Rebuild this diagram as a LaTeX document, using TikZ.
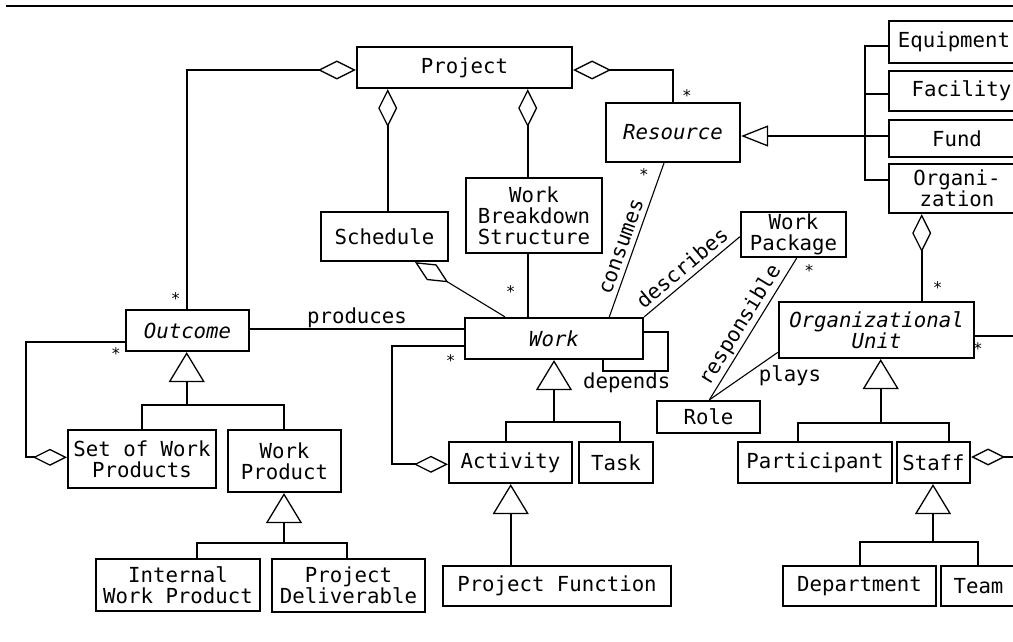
\documentclass[tikz,border=0pt]{standalone}
\usepackage{fontspec}
\setmonofont{DejaVu Sans Mono}[ItalicFont={DejaVu Sans Mono Oblique}]
\usetikzlibrary{arrows.meta}
\newcommand\bfnt{\ttfamily\fontsize{20.7}{20.8}\selectfont}
\newcommand\multfnt{\ttfamily\fontsize{16}{16}\selectfont}
\begin{document}
\begin{tikzpicture}[x=1pt,y=-1pt,
  box/.style={draw, line width=2.2pt, inner sep=0pt, align=center, font=\bfnt},
  ital/.style={box, font=\bfnt\itshape},
  conn/.style={line width=2pt},
  thinc/.style={line width=1.1pt},
  aggbig/.style={conn, {Diamond[open,length=38pt,width=19pt,line width=1.3pt]}-},
  agg/.style={conn, {Diamond[open,length=34pt,width=17pt,line width=1.3pt]}-},
  aggthin/.style={thinc, {Diamond[open,length=39pt,width=18.5pt,line width=1.3pt]}-},
  gen/.style={conn, -{Triangle[open,length=30pt,width=36pt,line width=1.3pt]}},
  genh/.style={conn, -{Triangle[open,length=27pt,width=21pt,line width=1.3pt]}},
  mult/.style={font=\multfnt, inner sep=0pt, anchor=north},
  lab/.style={font=\bfnt, inner sep=0pt},
]
\useasboundingbox (0,0) rectangle (1013,642);
\draw[line width=2.5pt] (6,6) -- (1013,6);

% boxes
\node[box, minimum width=215pt, minimum height=41pt] (project) at (464.5,67.5) {Project};
\node[ital, minimum width=134pt, minimum height=59pt] (resource) at (673,132.5) {Resource};
\node[box, minimum width=130pt, minimum height=42pt] (equip) at (954,42) {Equipment};
\node[box, minimum width=145pt, minimum height=40pt] (facility) at (961.5,91) {Facility};
\node[box, minimum width=136pt, minimum height=37pt] (fund) at (957,138.5) {Fund};
\node[box, minimum width=136pt, minimum height=49pt] (org) at (957,188.5) {Organi-\\zation};
\node[box, minimum width=127pt, minimum height=49pt] (schedule) at (384.5,236.5) {Schedule};
\node[box, minimum width=136pt, minimum height=75pt] (wbs) at (534,215.5) {Work\\Breakdown\\Structure};
\node[box, minimum width=105pt, minimum height=45pt] (wp) at (793.5,234.5) {Work\\Package};
\node[ital, minimum width=123pt, minimum height=41pt] (outcome) at (187.5,330.5) {Outcome};
\node[ital, minimum width=178pt, minimum height=41pt] (work) at (554,338.5) {Work};
\node[ital, minimum width=195pt, minimum height=56pt] (orgunit) at (876.5,330) {Organizational\\Unit};
\node[box, minimum width=103pt, minimum height=32pt] (role) at (708.5,417) {Role};
\node[box, minimum width=148pt, minimum height=58pt] (setwp) at (142,459) {Set of Work\\Products};
\node[box, minimum width=113pt, minimum height=62pt] (workprod) at (284.5,461) {Work\\Product};
\node[box, minimum width=123pt, minimum height=41pt] (activity) at (510.5,462.5) {Activity};
\node[box, minimum width=74pt, minimum height=41pt] (task) at (616,462.5) {Task};
\node[box, minimum width=154pt, minimum height=41pt] (participant) at (815,462.5) {Participant};
\node[box, minimum width=73pt, minimum height=41pt] (staff) at (933.5,462.5) {Staff};
\node[box, minimum width=164pt, minimum height=52pt] (iwp) at (178,585) {Internal\\Work Product};
\node[box, minimum width=153pt, minimum height=53pt] (pdel) at (348.5,585.5) {Project\\Deliverable};
\node[box, minimum width=228pt, minimum height=40pt] (pfunc) at (557,586) {Project Function};
\node[box, minimum width=153pt, minimum height=40pt] (dept) at (859.5,586) {Department};
\node[box, minimum width=75pt, minimum height=40pt] (team) at (978.5,586) {Team};

% junction coordinates
\coordinate (otj) at (186.7,405);
\coordinate (wptj) at (284,543);
\coordinate (wtj) at (554,421.7);
\coordinate (outj) at (880.7,422.7);
\coordinate (stj) at (933,541.7);
\coordinate (rtj) at (865,136);
\coordinate (rtop) at (865,46);
\coordinate (rbot) at (865,180);
\coordinate (osl) at (26,342);
\coordinate (wsl) at (392.3,345.7);
\coordinate (dep1) at (668.3,371);
\coordinate (ouend) at (1013,335.7);
\coordinate (stend) at (1013,457);

% aggregations
\draw[aggbig] (project.west |- 0,70) -| (outcome.north -| 186.7,0);
\draw[aggbig] (project.south -| 387.7,0) -- (schedule.north -| 387.7,0);
\draw[aggbig] (project.south -| 527.7,0) -- (wbs.north -| 527.7,0);
\draw[aggbig] (project.east |- 0,70) -| (resource.north -| 673,0);
\draw[aggbig] (org.south -| 921.7,0) -- (orgunit.north -| 921.7,0);
\draw[agg] (setwp.west |- 0,457.3) -| (osl) -- (outcome.west |- osl);
\draw[agg] (activity.west |- 0,464.3) -| (wsl) -- (work.west |- wsl);
\draw[aggthin] (schedule.south -| 415,0) -- (work.north -| 505,0);
\draw[agg] (staff.east |- stend) -- (stend);

% generalizations
\draw[gen] (otj) -- (outcome.south -| otj);
\draw[conn] (setwp.north -| 142.3,0) |- (otj) -| (workprod.north -| 284,0);
\draw[gen] (wptj) -- (workprod.south -| wptj);
\draw[conn] (iwp.north -| 197,0) |- (wptj) -| (pdel.north -| 347,0);
\draw[gen] (wtj) -- (work.south -| wtj);
\draw[conn] (activity.north -| 506,0) |- (wtj) -| (task.north -| 620,0);
\draw[gen] (pfunc.north -| 510.7,0) -- (activity.south -| 510.7,0);
\draw[gen] (outj) -- (orgunit.south -| outj);
\draw[conn] (participant.north -| 797.7,0) |- (outj) -| (staff.north -| 949,0);
\draw[gen] (stj) -- (staff.south -| stj);
\draw[conn] (dept.north -| 860,0) |- (stj) -| (team.north -| 977.7,0);
\draw[genh] (rtj) -- (resource.east |- rtj);
\draw[conn] (equip.west |- rtop) -- (rtop) -- (rbot) -- (org.west |- rbot);
\draw[conn] (facility.west |- 0,94) -- (rtop |- 0,94);
\draw[conn] (fund.west |- rtj) -- (rtj);

% associations
\draw[conn] (wbs.south -| 527.7,0) -- (work.north -| 527.7,0);
\draw[conn] (outcome.east |- 0,329) -- node[lab, pos=0.5, anchor=base, yshift=5.7pt] {produces} (work.west |- 0,329);
\draw[thinc] (work.north -| 609.3,0) -- node[lab, sloped, above, pos=0.43, inner sep=5pt] {consumes} (resource.south -| 664,0);
\draw[thinc] (work.north east) -- node[lab, sloped, above, pos=0.485, inner sep=5pt] {describes} (wp.west |- 0,236.7);
\draw[thinc] (role.north -| 709.3,0) -- node[lab, sloped, above, pos=0.479, inner sep=2pt] {responsible} (wp.south -| 796.7,0);
\draw[thinc] (role.north -| 709.3,0) -- (orgunit.west |- 0,352.3);
\draw[conn] (work.east |- 0,331.7) -| (dep1) -| (work.south -| 603.3,0);
\draw[conn] (orgunit.east |- ouend) -- (ouend);
\node[lab, anchor=base] (ldep) at (626.7,388) {depends};
\node[lab, anchor=base] (lplays) at (790,381.7) {plays};

% multiplicities
\node[mult] (m1) at (175.7,292.7) {*};
\node[mult] (m2) at (687,89) {*};
\node[mult] (m3) at (644,168.7) {*};
\node[mult] (m4) at (510.7,285.3) {*};
\node[mult] (m5) at (116,347.7) {*};
\node[mult] (m6) at (450.7,354.3) {*};
\node[mult] (m7) at (809.3,264.7) {*};
\node[mult] (m8) at (937.7,281.7) {*};
\node[mult] (m9) at (978,342.7) {*};
\end{tikzpicture}
\end{document}
